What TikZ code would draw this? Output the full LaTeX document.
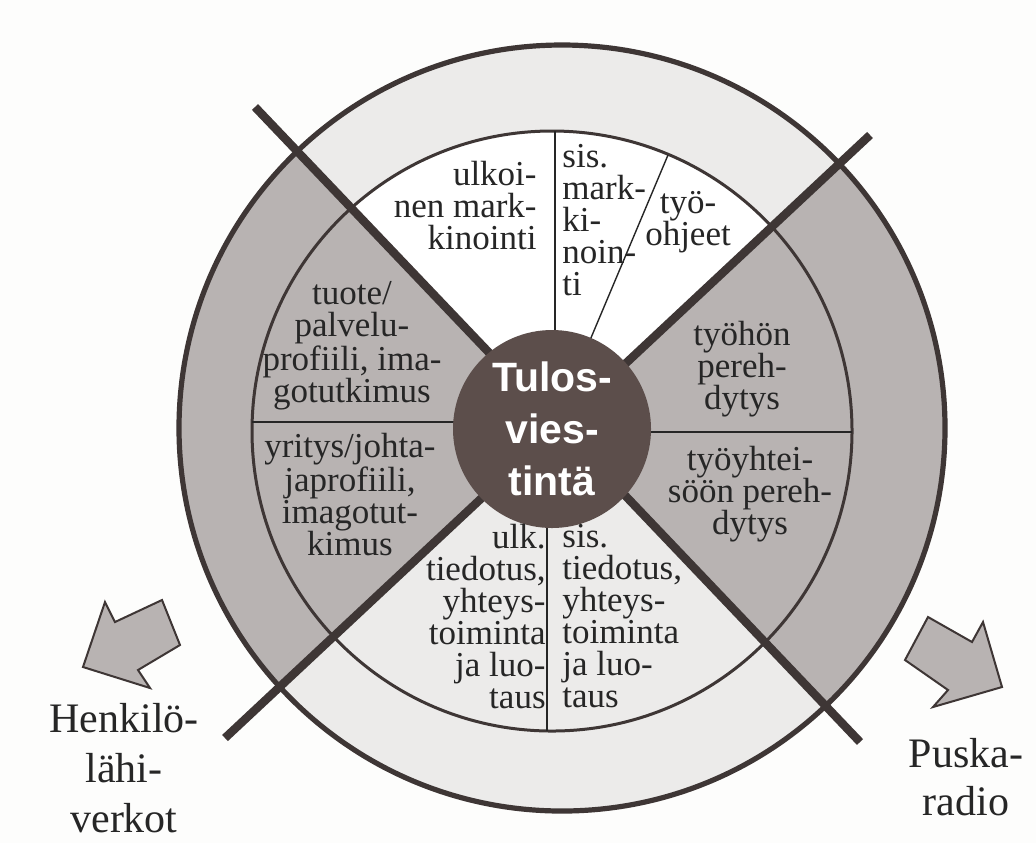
\documentclass[tikz,border=0pt]{standalone}
\usepackage{fontspec}
\setmainfont{Liberation Serif}
\setsansfont{Liberation Sans}
\usepackage{tikz}
\usetikzlibrary{calc,positioning}
\definecolor{paper}{RGB}{253,253,252}
\definecolor{ringlight}{RGB}{236,235,234}
\definecolor{wedgegrey}{RGB}{184,179,178}
\definecolor{hubbrown}{RGB}{92,78,75}
\definecolor{inkdark}{RGB}{62,54,53}
\tikzset{
  outerring/.style  = {draw=inkdark, line width=2.6pt},
  innerring/.style  = {draw=inkdark, line width=1.5pt},
  spoke/.style      = {draw=inkdark, line width=4.2pt},
  divider/.style    = {draw=black!85, line width=1.3pt},
  hairline/.style   = {draw=black!85, line width=0.7pt},
  hub/.style        = {circle, fill=hubbrown, inner sep=0pt, minimum size=99pt,
                       align=center, text=white,
                       font=\sffamily\bfseries\fontsize{20.5}{26}\selectfont},
  sector/.style     = {inner sep=0pt, text=black!85,
                       font=\fontsize{17.5}{16}\selectfont},
  sidelabel/.style  = {inner sep=0pt, align=center, text=black!85,
                       font=\fontsize{21}{25}\selectfont},
  blockarrow/.style = {fill=wedgegrey, draw=inkdark, line width=1pt, line join=miter},
}

\begin{document}
\begin{tikzpicture}[x=0.5pt, y=-0.5pt]

% Frame
\useasboundingbox (0,0) rectangle (1036,843);
\fill[paper] (0,0) rectangle (1036,843);

% Centres and spoke ends
\coordinate (X)  at (558,426);
\coordinate (oc) at (562,428);
\coordinate (ic) at (552,431);
\coordinate (nw) at (255,107);
\coordinate (se) at (860,742);
\coordinate (ne) at (870,135);
\coordinate (sw) at (225,738);

% Outer disc, white upper part of the inner disc
\fill[ringlight] (oc) circle[radius=191.5pt];
\begin{scope}
  \clip (ic) circle[radius=150pt];
  \fill[white] (X) -- ($(X)!2!(ne)$) -- ($(X)!2!(nw)$) -- cycle;
\end{scope}

% Grey side sectors
\begin{scope}
  \clip (oc) circle[radius=191.5pt];
  \fill[wedgegrey] (X) -- ($(X)!2!(nw)$) -- ($(X)!2!(sw)$) -- cycle;
  \fill[wedgegrey] (X) -- ($(X)!2!(ne)$) -- ($(X)!2!(se)$) -- cycle;
\end{scope}

% Rings
\draw[innerring] (ic) circle[radius=150pt];
\draw[outerring] (oc) circle[radius=191.5pt];

% Dividers inside the inner disc
\draw[divider]  (555,131) -- (555,400);
\draw[hairline] (668,155) -- (585,352);
\draw[hairline] (252,422) -- (500,422);
\draw[hairline] (600,432) -- (852,432);
\draw[divider]  (547,470) -- (547,731);

% Spokes
\draw[spoke] (nw) -- (se);
\draw[spoke] (ne) -- (sw);

% Hub
\node[hub] (hub) at (552,429) {Tulos-\\vies-\\tintä};

% Sector texts
\node[sector, align=right, anchor=north east] (ulkmark) at (537,161) {ulkoi-\\nen mark-\\kinointi};
\node[sector, align=left, anchor=north west] (sismark) at (562,144) {sis.\\mark-\\ki-\\noin-\\ti};
\node[sector, align=center, anchor=north] (tyoohje) at (688,191) {työ-\\ohjeet};
\node[sector, align=center, anchor=north] (tyoper) at (742,321) {työhön\\pereh-\\dytys};
\node[sector, align=center, anchor=north] (yhtper) at (750,446) {työyhtei-\\söön pereh-\\dytys};
\node[sector, align=center, anchor=north] (tuoteprof) at (352,281) {tuote/\\palvelu-\\profiili, ima-\\gotutkimus};
\node[sector, align=center, anchor=north] (yritysprof) at (350,433) {yritys/johta-\\japrofiili,\\imagotut-\\kimus};
\node[sector, align=right, anchor=north east] (ulktied) at (546,524) {ulk.\\tiedotus,\\yhteys-\\toiminta\\ja luo-\\taus};
\node[sector, align=left, anchor=north west] (sistied) at (562,524) {sis.\\tiedotus,\\yhteys-\\toiminta\\ja luo-\\taus};

% Outgoing arrows
\draw[blockarrow] (83,667) -- (105,602) -- (115,622) -- (162,600) -- (180,645)
  -- (138,670) -- (150,688) -- cycle;
\draw[blockarrow] (1002,687) -- (933,707) -- (948,690) -- (905,660) -- (928,617)
  -- (972,642) -- (983,622) -- cycle;

% Channel labels
\node[sidelabel, anchor=north] (henk) at (124,703) {Henkilö-\\lähi-\\verkot};
\node[sidelabel, anchor=north, font=\fontsize{21}{24}\selectfont] (puska) at (966,738) {Puska-\\radio};

\end{tikzpicture}
\end{document}
